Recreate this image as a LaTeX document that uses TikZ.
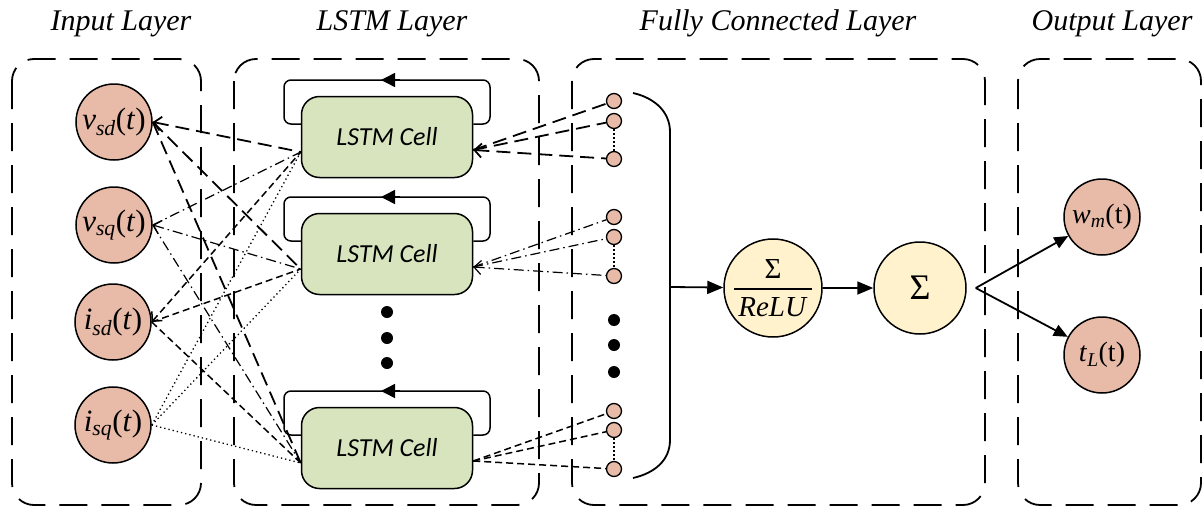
\documentclass[tikz,border=0pt]{standalone}
\usepackage{fontspec}
\setmainfont{Liberation Serif}
\newfontfamily\cellfont{Carlito}
\usepackage{amsmath}
\usetikzlibrary{arrows.meta}

\definecolor{insalmon}{HTML}{E8BAA8}
\definecolor{cellgreen}{HTML}{D7E4BD}
\definecolor{sumyellow}{HTML}{FFF2CC}

\begin{document}
\begin{tikzpicture}[x=1pt, y=-1pt,
    layer/.style={draw, line width=1.8pt, dash pattern=on 28pt off 14pt, rounded corners=22pt},
    title/.style={anchor=base, font=\fontsize{30}{32}\selectfont\itshape},
    innode/.style={circle, draw, line width=1.5pt, fill=insalmon, minimum size=76pt, inner sep=0pt, font=\fontsize{31}{33}\selectfont},
    outnode/.style={innode, font=\fontsize{28}{30}\selectfont},
    cell/.style={draw, line width=1.5pt, fill=cellgreen, rounded corners=18pt, minimum width=171pt, minimum height=81pt, font=\fontsize{26}{28}\selectfont\cellfont\itshape},
    fcnode/.style={circle, draw, line width=1.3pt, fill=insalmon, minimum size=15pt, inner sep=0pt},
    sumnode/.style={circle, draw, line width=1.5pt, fill=sumyellow, minimum size=92pt, inner sep=0pt, font=\fontsize{29}{31}\selectfont},
    bigdot/.style={circle, fill=black, minimum size=12pt, inner sep=0pt},
    wlong/.style={line width=1.8pt, dash pattern=on 14pt off 7pt},
    wdashdot/.style={line width=1.2pt, dash pattern=on 10pt off 4pt on 1.5pt off 4pt},
    wdash/.style={line width=1.5pt, dash pattern=on 7pt off 4pt},
    wdot/.style={line width=1.3pt, dash pattern=on 1.3pt off 3pt},
    barb/.style={{Straight Barb[length=7pt, width=14pt]}-},
    flow/.style={line width=1.8pt, -{Triangle[length=16pt, width=13pt]}},
  ]
  \useasboundingbox (0,0) rectangle (1203,509);

  % layers
  \draw[layer] (12,59) rectangle (201,505);
  \draw[layer] (234,59) rectangle (539,505);
  \draw[layer] (572,59) rectangle (985,505);
  \draw[layer] (1018,59) rectangle (1201,505);
  \node[title] (tin) at (121,30) {Input Layer};
  \node[title] (tlstm) at (392,30) {LSTM Layer};
  \node[title] (tfc) at (778,30) {Fully Connected Layer};
  \node[title] (tout) at (1112,30) {Output Layer};

  % inputs
  \node[innode] (vsd) at (114,122) {\textit{v}\textsubscript{\textit{sd}}(\textit{t})};
  \node[innode] (vsq) at (114,225) {\textit{v}\textsubscript{\textit{sq}}(\textit{t})};
  \node[innode] (isd) at (113,322) {\textit{i}\textsubscript{\textit{sd}}(\textit{t})};
  \node[innode] (isq) at (113,425) {\textit{i}\textsubscript{\textit{sq}}(\textit{t})};

  % lstm cells
  \node[cell] (cellA) at (387,137) {LSTM Cell};
  \node[cell] (cellB) at (387,254) {LSTM Cell};
  \node[cell] (cellC) at (387,448) {LSTM Cell};
  \foreach \c/\y in {cellA/137, cellB/254, cellC/448} {
    \draw[line width=1.5pt, rounded corners=7pt] (\c.east |- 0,\y-13) -- (490,\y-13) -- (490,\y-57)
      -- (284,\y-57) -- (284,\y-13) -- (\c.west |- 0,\y-13);
    \draw[line width=1.5pt, -{Triangle[length=14pt, width=14pt]}] (400,\y-57) -- (381,\y-57);
    \coordinate (\c-in) at ([yshift=-15pt]\c.west);
    \coordinate (\c-out) at ([yshift=-13pt]\c.east);
  }
  \foreach \y in {312,338,363}
    \node[bigdot] at (387,\y) {};

  % input -> cells
  \draw[wlong, barb] (vsd.east) -- (cellA-in);
  \draw[wlong] (vsd.east) -- (cellB-in);
  \draw[wlong] (vsd.east) -- (cellC-in);
  \draw[wdashdot, barb] (vsq.east) -- (cellB-in);
  \draw[wdashdot] (vsq.east) -- (cellA-in);
  \draw[wdashdot] (vsq.east) -- (cellC-in);
  \draw[wdash, barb] (isd.east) -- (cellA-in);
  \draw[wdash] (isd.east) -- (cellB-in);
  \draw[wdash] (isd.east) -- (cellC-in);
  \draw[wdot] (isq.east) -- (cellA-in);
  \draw[wdot] (isq.east) -- (cellB-in);
  \draw[wdot] (isq.east) -- (cellC-in);

  % fully connected neurons
  \foreach \g/\ya/\yb/\yc in {A/101/121/159, B/217/237/276, C/411/430/469} {
    \node[fcnode] (f\g1) at (614,\ya) {};
    \node[fcnode] (f\g2) at (614,\yb) {};
    \node[fcnode] (f\g3) at (614,\yc) {};
    \draw[line width=2.5pt, dash pattern=on 2pt off 2pt] (f\g2) -- (f\g3);
  }
  \foreach \y in {320,345,372}
    \node[bigdot] at (614,\y) {};

  % cells -> neurons
  \draw[wlong] (cellA-out) -- (fA1);
  \draw[wlong] (cellA-out) -- (fA2);
  \draw[wlong, barb] (cellA-out) -- (fA3);
  \draw[wdashdot] (cellB-out) -- (fB1);
  \draw[wdashdot] (cellB-out) -- (fB2);
  \draw[wdashdot, barb] (cellB-out) -- (fB3);
  \draw[wdash] (cellC-out) -- (fC1);
  \draw[wdash] (cellC-out) -- (fC2);
  \draw[wdash] (cellC-out) -- (fC3);

  % bracket and summing nodes
  \draw[line width=1.8pt] (633,93) .. controls (655,98) and (670,112) .. (670,132) -- (670,440)
    .. controls (670,460) and (655,473) .. (633,478);
  \coordinate (brk) at (670,287);
  \node[sumnode] (relu) at (773,288) {$\genfrac{}{}{2.2pt}{0}{\text{Σ}}{\hbox to 78pt{\hss\textit{ReLU}\hss}}$};
  \node[sumnode, font=\fontsize{36}{38}\selectfont] (sum) at (920,288) {Σ};
  \draw[flow] (brk) -- (relu);
  \draw[flow] (relu) -- (sum);

  % outputs
  \node[outnode] (wm) at (1102,217) {\textit{w}\textsubscript{\textit{m}}(t)};
  \node[outnode] (tl) at (1102,355) {\textit{t}\textsubscript{\textit{L}}(t)};
  \coordinate (split) at ([xshift=9pt]sum.east);
  \draw[flow, -{Triangle[length=14pt, width=12pt]}] (split) -- (wm);
  \draw[flow, -{Triangle[length=14pt, width=12pt]}] (split) -- (tl);
\end{tikzpicture}
\end{document}
